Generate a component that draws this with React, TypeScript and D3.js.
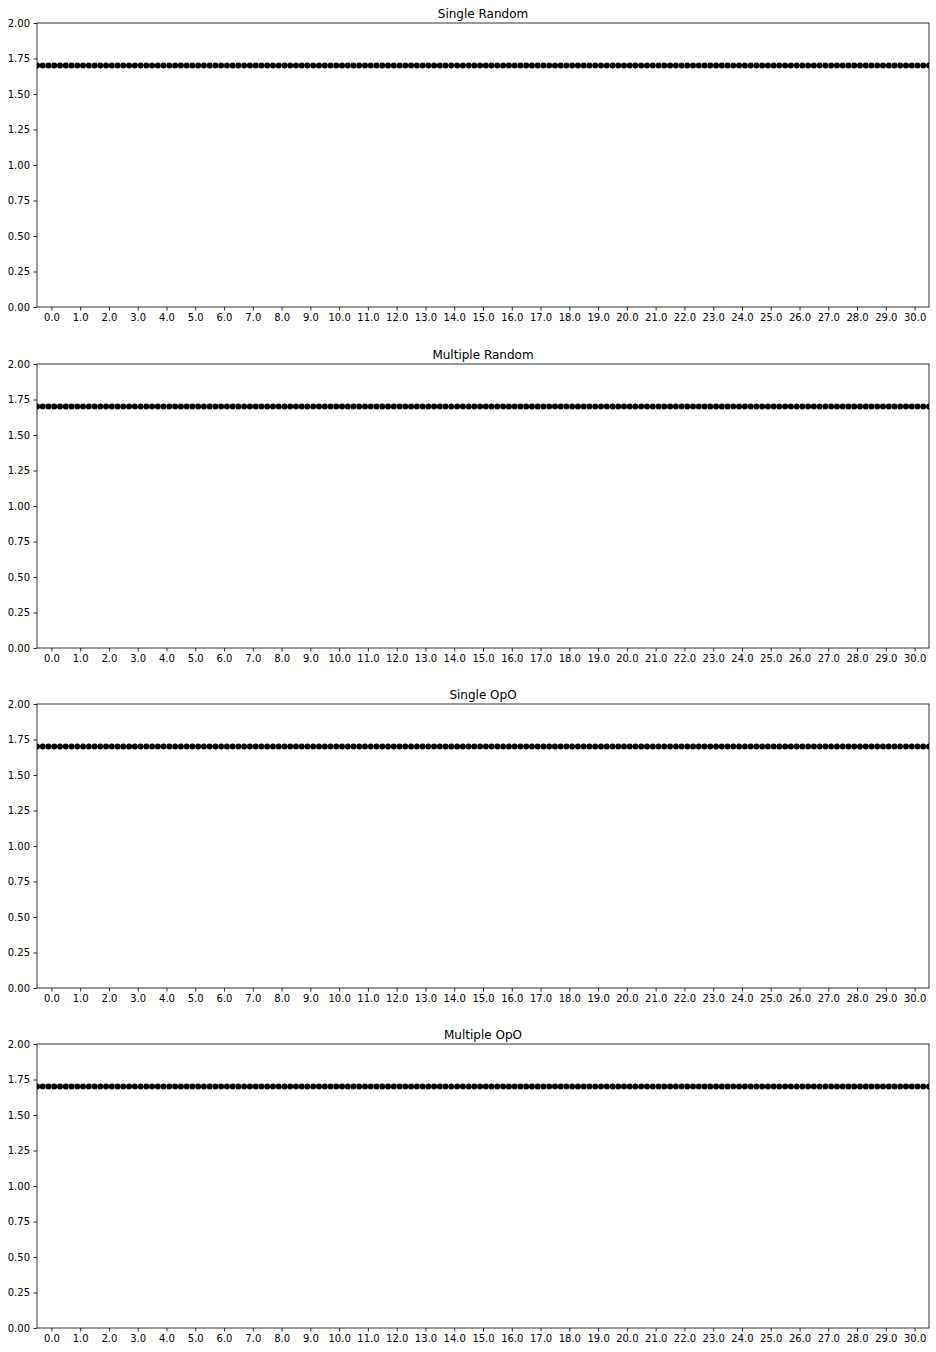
import React, { useRef, useEffect } from "react";
import * as d3 from "d3";

// panel titles, top to bottom
const titles = ["Single Random", "Multiple Random", "Single OpO", "Multiple OpO"];

// level of the dotted line in each panel
const levels = [1.7, 1.7, 1.7, 1.7];

// x positions of the markers (same in every panel)
const xs = [
  -0.5, -0.3, -0.1, 0.1, 0.3, 0.5, 0.7, 0.9, 1.1, 1.3, 1.5, 1.7, 1.9, 2.1, 2.3, 2.5, 2.7, 2.9,
  3.1, 3.3, 3.5, 3.7, 3.9, 4.1, 4.3, 4.5, 4.7, 4.9, 5.1, 5.3, 5.5, 5.7, 5.9, 6.1, 6.3, 6.5, 6.7,
  6.9, 7.1, 7.3, 7.5, 7.7, 7.9, 8.1, 8.3, 8.5, 8.7, 8.9, 9.1, 9.3, 9.5, 9.7, 9.9, 10.1, 10.3,
  10.5, 10.7, 10.9, 11.1, 11.3, 11.5, 11.7, 11.9, 12.1, 12.3, 12.5, 12.7, 12.9, 13.1, 13.3, 13.5,
  13.7, 13.9, 14.1, 14.3, 14.5, 14.7, 14.9, 15.1, 15.3, 15.5, 15.7, 15.9, 16.1, 16.3, 16.5, 16.7,
  16.9, 17.1, 17.3, 17.5, 17.7, 17.9, 18.1, 18.3, 18.5, 18.7, 18.9, 19.1, 19.3, 19.5, 19.7, 19.9,
  20.1, 20.3, 20.5, 20.7, 20.9, 21.1, 21.3, 21.5, 21.7, 21.9, 22.1, 22.3, 22.5, 22.7, 22.9, 23.1,
  23.3, 23.5, 23.7, 23.9, 24.1, 24.3, 24.5, 24.7, 24.9, 25.1, 25.3, 25.5, 25.7, 25.9, 26.1, 26.3,
  26.5, 26.7, 26.9, 27.1, 27.3, 27.5, 27.7, 27.9, 28.1, 28.3, 28.5, 28.7, 28.9, 29.1, 29.3, 29.5,
  29.7, 29.9, 30.1, 30.3, 30.5,
];

const xTicks = [
  0, 1, 2, 3, 4, 5, 6, 7, 8, 9, 10, 11, 12, 13, 14, 15, 16, 17, 18, 19, 20, 21, 22, 23, 24, 25,
  26, 27, 28, 29, 30,
];
const yTicks = [0, 0.25, 0.5, 0.75, 1, 1.25, 1.5, 1.75, 2];

export default function App() {
  const ref = useRef<HTMLDivElement>(null);

  useEffect(() => {
    if (!ref.current) return;
    ref.current.innerHTML = "";

    const W = 936;
    const H = 1352;
    const left = 37;
    const right = 929;
    const panelTops = [23, 364, 704, 1044];
    const panelH = 284;

    const svg = d3.select(ref.current)
      .append("svg")
      .attr("width", W)
      .attr("height", H)
      .style("display", "block")
      .style("background", "#fff")
      .style("font-family", "'DejaVu Sans', sans-serif");

    const x = d3.scaleLinear().domain([-0.5, 30.5]).range([left, right]);
    const defs = svg.append("defs");

    titles.forEach((title, i) => {
      const top = panelTops[i];
      const y = d3.scaleLinear().domain([0, 2]).range([top + panelH, top]);
      const g = svg.append("g");

      defs.append("clipPath")
        .attr("id", `clip${i}`)
        .append("rect")
        .attr("x", left)
        .attr("y", top)
        .attr("width", right - left)
        .attr("height", panelH);

      // points
      g.append("g")
        .attr("clip-path", `url(#clip${i})`)
        .selectAll("circle")
        .data(xs)
        .join("circle")
        .attr("cx", d => x(d))
        .attr("cy", y(levels[i]))
        .attr("r", 3)
        .attr("fill", "#000");

      const xAxis = d3.axisBottom(x)
        .tickValues(xTicks)
        .tickFormat(d => (d as number).toFixed(1))
        .tickSize(3.5)
        .tickPadding(3.5);
      const yAxis = d3.axisLeft(y)
        .tickValues(yTicks)
        .tickFormat(d => (d as number).toFixed(2))
        .tickSize(3.5)
        .tickPadding(3.5);

      const gx = g.append("g")
        .attr("transform", `translate(0,${top + panelH})`)
        .call(xAxis);
      const gy = g.append("g")
        .attr("transform", `translate(${left},0)`)
        .call(yAxis);
      [gx, gy].forEach(a => {
        a.select(".domain").remove();
        a.selectAll("line").attr("stroke", "#000").attr("stroke-width", 0.8);
        a.selectAll("text")
          .attr("fill", "#000")
          .style("font-size", "10px")
          .style("font-family", "'DejaVu Sans', sans-serif");
      });

      // frame
      g.append("rect")
        .attr("x", left)
        .attr("y", top)
        .attr("width", right - left)
        .attr("height", panelH)
        .attr("fill", "none")
        .attr("stroke", "#000")
        .attr("stroke-width", 0.8);

      g.append("text")
        .attr("x", (left + right) / 2)
        .attr("y", top - 5)
        .attr("text-anchor", "middle")
        .attr("fill", "#000")
        .style("font-size", "12px")
        .text(title);
    });
  }, []);

  return <div ref={ref} style={{ position: "absolute", left: 0, top: 0 }} />;
}
